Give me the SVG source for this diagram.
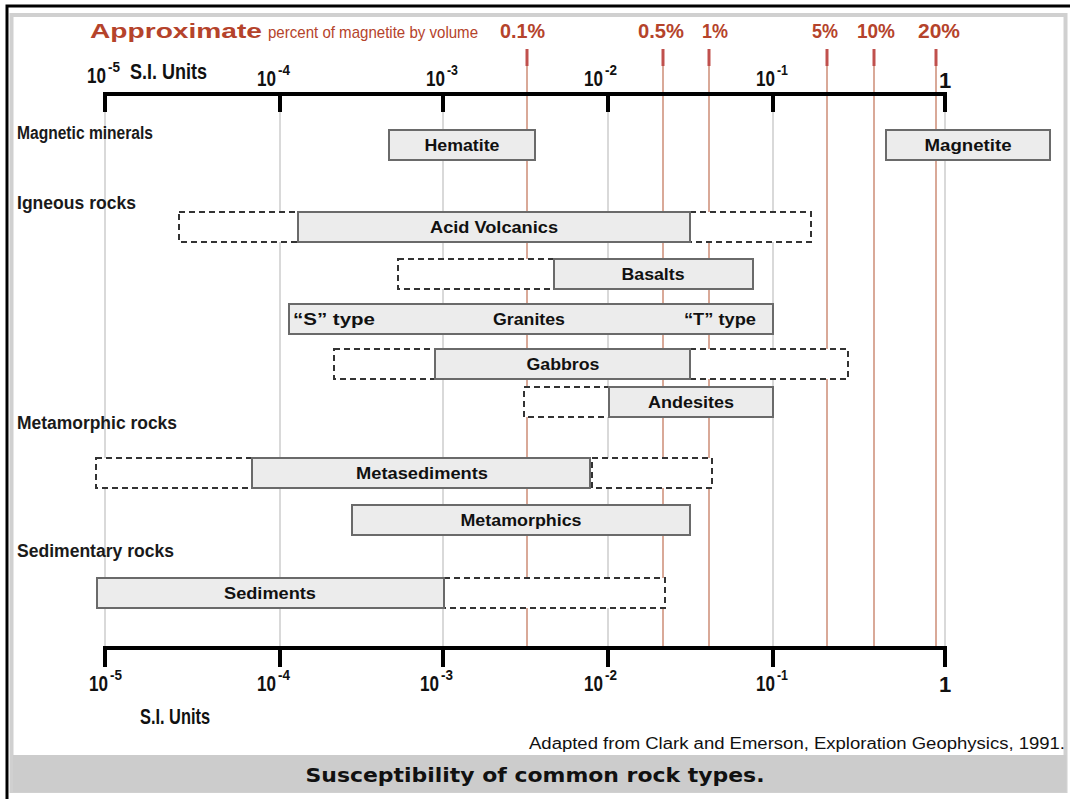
<svg xmlns="http://www.w3.org/2000/svg" width="1070" height="799" viewBox="0 0 1070 799">
<style>
.f{font-family:"Liberation Sans",Arial,sans-serif}
.red{fill:#b5432b;font-family:"Liberation Sans",Arial,sans-serif;font-weight:bold}
.lab{font-family:"Liberation Sans",Arial,sans-serif;font-weight:bold;font-size:16px;fill:#111;text-anchor:middle}
.cat{font-family:"Liberation Sans",Arial,sans-serif;font-weight:bold;font-size:18px;fill:#1a1a1a}
.tick{font-family:"Liberation Sans",Arial,sans-serif;font-weight:bold;font-size:22px;fill:#111}
.sup{font-family:"Liberation Sans",Arial,sans-serif;font-weight:bold;font-size:14px;fill:#111}
.solid{fill:#ececec;stroke:#6a6a6a;stroke-width:2}
.dash{fill:#fff;stroke:#333;stroke-width:2;stroke-dasharray:6 4}
.grid{stroke:#d9d9d9;stroke-width:2}
.rl{stroke:#cd8c76;stroke-width:1.5}
.rm{stroke:#c0504d;stroke-width:3}
.axis{stroke:#000;stroke-width:4;fill:none}
</style>
<rect x="0" y="0" width="1070" height="799" fill="#fff"/>
<g id="frame">
<path d="M7,799 V6 H1070" stroke="#000" stroke-width="3" fill="none"/>
<rect x="11.5" y="15" width="1054" height="776" fill="none" stroke="#d0d0d0" stroke-width="4"/>
<rect x="13" y="755" width="1053" height="37" fill="#cccccc"/>
</g>
<g id="connectors">
<g id="grid">
<line class="grid" x1="105" y1="96" x2="105" y2="646"/>
<line class="grid" x1="280" y1="96" x2="280" y2="646"/>
<line class="grid" x1="443" y1="96" x2="443" y2="646"/>
<line class="grid" x1="608" y1="96" x2="608" y2="646"/>
<line class="grid" x1="773" y1="96" x2="773" y2="646"/>
<line class="grid" x1="945" y1="96" x2="945" y2="646"/>
</g>
<g id="magnetite-lines">
<line class="rl" x1="527" y1="64" x2="527" y2="646"/>
<line class="rl" x1="663" y1="64" x2="663" y2="646"/>
<line class="rl" x1="709" y1="64" x2="709" y2="646"/>
<line class="rl" x1="827" y1="64" x2="827" y2="646"/>
<line class="rl" x1="874" y1="64" x2="874" y2="646"/>
<line class="rl" x1="936" y1="64" x2="936" y2="646"/>
<line class="rm" x1="527" y1="49" x2="527" y2="66"/>
<line class="rm" x1="663" y1="49" x2="663" y2="66"/>
<line class="rm" x1="709" y1="49" x2="709" y2="66"/>
<line class="rm" x1="827" y1="49" x2="827" y2="66"/>
<line class="rm" x1="874" y1="49" x2="874" y2="66"/>
<line class="rm" x1="936" y1="49" x2="936" y2="66"/>
</g>
<g id="axes">
<path class="axis" d="M105,112 V94 H945 V112 M280,94 V112 M443,94 V112 M608,94 V112 M773,94 V112"/>
<path class="axis" d="M105,667 V648 H945 V667 M280,648 V667 M443,648 V667 M608,648 V667 M773,648 V667"/>
</g>
</g>
<g id="header">
<text class="red" x="90" y="38" font-size="21" textLength="172" lengthAdjust="spacingAndGlyphs">Approximate</text>
<text class="red" x="268" y="38" font-size="17" style="font-weight:normal" textLength="210" lengthAdjust="spacingAndGlyphs">percent of magnetite by volume</text>
<text class="red" x="500" y="38" font-size="20" textLength="45" lengthAdjust="spacingAndGlyphs">0.1%</text>
<text class="red" x="638" y="38" font-size="20" textLength="46" lengthAdjust="spacingAndGlyphs">0.5%</text>
<text class="red" x="702" y="38" font-size="20" textLength="26" lengthAdjust="spacingAndGlyphs">1%</text>
<text class="red" x="812" y="38" font-size="20" textLength="26" lengthAdjust="spacingAndGlyphs">5%</text>
<text class="red" x="857" y="38" font-size="20" textLength="38" lengthAdjust="spacingAndGlyphs">10%</text>
<text class="red" x="918" y="38" font-size="20" textLength="42" lengthAdjust="spacingAndGlyphs">20%</text>
</g>
<g id="top-scale">
<text class="tick" x="87" y="83" textLength="19" lengthAdjust="spacingAndGlyphs">10</text>
<text class="sup" x="108" y="72" textLength="12" lengthAdjust="spacingAndGlyphs">-5</text>
<text class="tick" x="130" y="79" font-size="21" textLength="77" lengthAdjust="spacingAndGlyphs">S.I. Units</text>
<text class="tick" x="257" y="86" textLength="19" lengthAdjust="spacingAndGlyphs">10</text>
<text class="sup" x="278" y="75" textLength="12" lengthAdjust="spacingAndGlyphs">-4</text>
<text class="tick" x="426" y="86" textLength="19" lengthAdjust="spacingAndGlyphs">10</text>
<text class="sup" x="447" y="75" textLength="11" lengthAdjust="spacingAndGlyphs">-3</text>
<text class="tick" x="584" y="86" textLength="19" lengthAdjust="spacingAndGlyphs">10</text>
<text class="sup" x="605" y="75" textLength="12" lengthAdjust="spacingAndGlyphs">-2</text>
<text class="tick" x="756" y="86" textLength="19" lengthAdjust="spacingAndGlyphs">10</text>
<text class="sup" x="777" y="75" textLength="11" lengthAdjust="spacingAndGlyphs">-1</text>
<text class="tick" x="945" y="88" text-anchor="middle">1</text>
</g>
<g id="bottom-scale">
<text class="tick" x="89" y="691" textLength="19" lengthAdjust="spacingAndGlyphs">10</text>
<text class="sup" x="110" y="680" textLength="12" lengthAdjust="spacingAndGlyphs">-5</text>
<text class="tick" x="257" y="691" textLength="19" lengthAdjust="spacingAndGlyphs">10</text>
<text class="sup" x="278" y="680" textLength="12" lengthAdjust="spacingAndGlyphs">-4</text>
<text class="tick" x="420" y="691" textLength="19" lengthAdjust="spacingAndGlyphs">10</text>
<text class="sup" x="441" y="680" textLength="12" lengthAdjust="spacingAndGlyphs">-3</text>
<text class="tick" x="584" y="691" textLength="19" lengthAdjust="spacingAndGlyphs">10</text>
<text class="sup" x="605" y="680" textLength="12" lengthAdjust="spacingAndGlyphs">-2</text>
<text class="tick" x="756" y="691" textLength="19" lengthAdjust="spacingAndGlyphs">10</text>
<text class="sup" x="777" y="680" textLength="11" lengthAdjust="spacingAndGlyphs">-1</text>
<text class="tick" x="945" y="692" text-anchor="middle">1</text>
<text class="tick" x="140" y="724" font-size="20" textLength="70" lengthAdjust="spacingAndGlyphs">S.I. Units</text>
</g>
<g id="categories">
<text class="cat" x="17" y="139" textLength="136" lengthAdjust="spacingAndGlyphs">Magnetic minerals</text>
<text class="cat" x="17" y="209" textLength="119" lengthAdjust="spacingAndGlyphs">Igneous rocks</text>
<text class="cat" x="17" y="429" textLength="160" lengthAdjust="spacingAndGlyphs">Metamorphic rocks</text>
<text class="cat" x="17" y="557" textLength="157" lengthAdjust="spacingAndGlyphs">Sedimentary rocks</text>
</g>
<g id="hematite">
<rect class="solid" x="389" y="130" width="146" height="30"/>
<text class="lab" x="462" y="151" textLength="75" lengthAdjust="spacingAndGlyphs">Hematite</text>
</g>
<g id="magnetite">
<rect class="solid" x="886" y="130" width="164" height="30"/>
<text class="lab" x="968" y="151" textLength="87" lengthAdjust="spacingAndGlyphs">Magnetite</text>
</g>
<g id="acid-volcanics">
<rect class="dash" x="179" y="212" width="119" height="30"/>
<rect class="dash" x="690" y="212" width="121" height="30"/>
<rect class="solid" x="298" y="212" width="392" height="30"/>
<text class="lab" x="494" y="233" textLength="128" lengthAdjust="spacingAndGlyphs">Acid Volcanics</text>
</g>
<g id="basalts">
<rect class="dash" x="398" y="259" width="156" height="30"/>
<rect class="solid" x="554" y="259" width="199" height="30"/>
<text class="lab" x="653" y="280" textLength="63" lengthAdjust="spacingAndGlyphs">Basalts</text>
</g>
<g id="granites">
<rect class="solid" x="289" y="304" width="484" height="30"/>
<text class="lab" x="334" y="325" textLength="82" lengthAdjust="spacingAndGlyphs">“S” type</text>
<text class="lab" x="529" y="325" textLength="72" lengthAdjust="spacingAndGlyphs">Granites</text>
<text class="lab" x="720" y="325" textLength="72" lengthAdjust="spacingAndGlyphs">“T” type</text>
</g>
<g id="gabbros">
<rect class="dash" x="334" y="349" width="101" height="30"/>
<rect class="dash" x="690" y="349" width="158" height="30"/>
<rect class="solid" x="435" y="349" width="255" height="30"/>
<text class="lab" x="563" y="370" textLength="73" lengthAdjust="spacingAndGlyphs">Gabbros</text>
</g>
<g id="andesites">
<rect class="dash" x="524" y="387" width="85" height="30"/>
<rect class="solid" x="609" y="387" width="164" height="30"/>
<text class="lab" x="691" y="408" textLength="86" lengthAdjust="spacingAndGlyphs">Andesites</text>
</g>
<g id="metasediments">
<rect class="dash" x="96" y="458" width="156" height="30"/>
<rect class="dash" x="592" y="458" width="120" height="30"/>
<rect class="solid" x="252" y="458" width="338" height="30"/>
<text class="lab" x="422" y="479" textLength="132" lengthAdjust="spacingAndGlyphs">Metasediments</text>
</g>
<g id="metamorphics">
<rect class="solid" x="352" y="505" width="338" height="30"/>
<text class="lab" x="521" y="526" textLength="121" lengthAdjust="spacingAndGlyphs">Metamorphics</text>
</g>
<g id="sediments">
<rect class="dash" x="444" y="578" width="221" height="30"/>
<rect class="solid" x="97" y="578" width="347" height="30"/>
<text class="lab" x="270" y="599" textLength="92" lengthAdjust="spacingAndGlyphs">Sediments</text>
</g>
<g id="footer">
<text class="f" x="529" y="749" font-size="16" fill="#111" textLength="536" lengthAdjust="spacingAndGlyphs">Adapted from Clark and Emerson, Exploration Geophysics, 1991.</text>
<text x="535" y="782" font-family="'DejaVu Sans',Verdana,sans-serif" font-weight="bold" font-size="19" fill="#111" text-anchor="middle" textLength="459" lengthAdjust="spacingAndGlyphs">Susceptibility of common rock types.</text>
</g>
</svg>
